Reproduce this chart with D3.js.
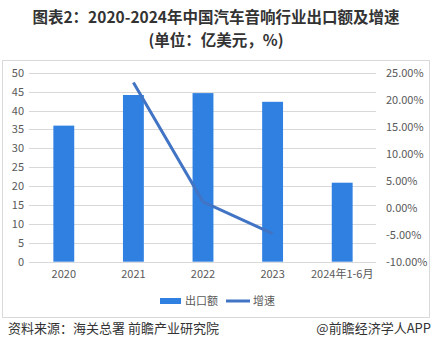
<!DOCTYPE html>
<html><head><meta charset="utf-8">
<script src="https://cdn.jsdelivr.net/npm/d3@7/dist/d3.min.js"></script>
<style>body{margin:0;background:#fff;}svg{display:block;font-family:"Microsoft YaHei","Noto Sans CJK SC",sans-serif;}</style>
</head><body>
<script>
const categories = ["2020","2021","2022","2023","2024年1-6月"];
const exportValues = [36.0, 44.1, 44.6, 42.3, 20.9];
const growthCats = ["2021","2022","2023"];
const growthValues = [23.2, 1.1, -4.8];
const leftTicks = [0,5,10,15,20,25,30,35,40,45,50];
const rightTicks = [-10,-5,0,5,10,15,20,25];

const W=433,H=358;
const svg=d3.select("body").append("svg").attr("width",W).attr("height",H);
svg.append("rect").attr("x",2.5).attr("y",60.5).attr("width",427).attr("height",257).attr("fill","#fff").attr("stroke","#d9d9d9");

svg.append("text").attr("x",216).attr("y",23).attr("text-anchor","middle").attr("font-size",15.5).attr("font-weight","bold").attr("fill","#333").text("图表2：2020-2024年中国汽车音响行业出口额及增速");
svg.append("text").attr("x",216).attr("y",45.5).attr("text-anchor","middle").attr("font-size",15.5).attr("font-weight","bold").attr("fill","#333").text("(单位：亿美元，%)");

const x=d3.scaleBand().domain(categories).range([29,377]).paddingInner(0.7).paddingOuter(0.35);
const y=d3.scaleLinear().domain([0,50]).range([261.7,72.7]);
const y2=d3.scaleLinear().domain([-10,25]).range([261.7,72.7]);

svg.append("g").selectAll("line").data(leftTicks).join("line")
  .attr("x1",29).attr("x2",376).attr("y1",d=>Math.round(y(d))+0.5).attr("y2",d=>Math.round(y(d))+0.5)
  .attr("stroke","#d9d9d9").attr("stroke-width",1);

const gl=svg.append("g").attr("transform","translate(24,0)").call(d3.axisLeft(y).tickValues(leftTicks).tickSize(0).tickPadding(0));
gl.select(".domain").remove();
gl.selectAll("text").attr("font-size",11).attr("fill","#595959").attr("font-family","Microsoft YaHei,Noto Sans CJK SC,sans-serif");

const gr=svg.append("g").attr("transform","translate(386,0)").call(d3.axisRight(y2).tickValues(rightTicks).tickSize(0).tickPadding(0).tickFormat(d=>d.toFixed(2)+"%"));
gr.select(".domain").remove();
gr.selectAll("text").attr("font-size",11).attr("fill","#595959").attr("font-family","Microsoft YaHei,Noto Sans CJK SC,sans-serif");

const gb=svg.append("g").attr("transform","translate(0,268)").call(d3.axisBottom(x).tickSize(0).tickPadding(0));
gb.select(".domain").remove();
gb.selectAll("text").attr("font-size",11).attr("fill","#595959").attr("dy","0.9em").attr("font-family","Microsoft YaHei,Noto Sans CJK SC,sans-serif");

svg.append("g").selectAll("rect").data(exportValues).join("rect")
  .attr("x",(d,i)=>x(categories[i])).attr("width",x.bandwidth())
  .attr("y",d=>y(d)).attr("height",d=>y(0)-y(d)).attr("fill","#2f80e0");

const line=d3.line().x((d,i)=>x(growthCats[i])+x.bandwidth()/2).y(d=>y2(d));
svg.append("path").datum(growthValues).attr("d",line).attr("fill","none").attr("stroke","#4174c4").attr("stroke-width",3);

const lg=svg.append("g");
lg.append("rect").attr("x",160).attr("y",298).attr("width",21).attr("height",6).attr("fill","#2f80e0");
lg.append("text").attr("x",185).attr("y",305).attr("font-size",11).attr("fill","#595959").text("出口额");
lg.append("line").attr("x1",226).attr("x2",250).attr("y1",301).attr("y2",301).attr("stroke","#4174c4").attr("stroke-width",3);
lg.append("text").attr("x",253).attr("y",305).attr("font-size",11).attr("fill","#595959").text("增速");

svg.append("text").attr("x",8).attr("y",333).attr("font-size",13).attr("fill","#333").text("资料来源：海关总署 前瞻产业研究院");
svg.append("text").attr("x",431).attr("y",333).attr("text-anchor","end").attr("font-size",13).attr("fill","#333").text("@前瞻经济学人APP");
</script>
</body></html>
